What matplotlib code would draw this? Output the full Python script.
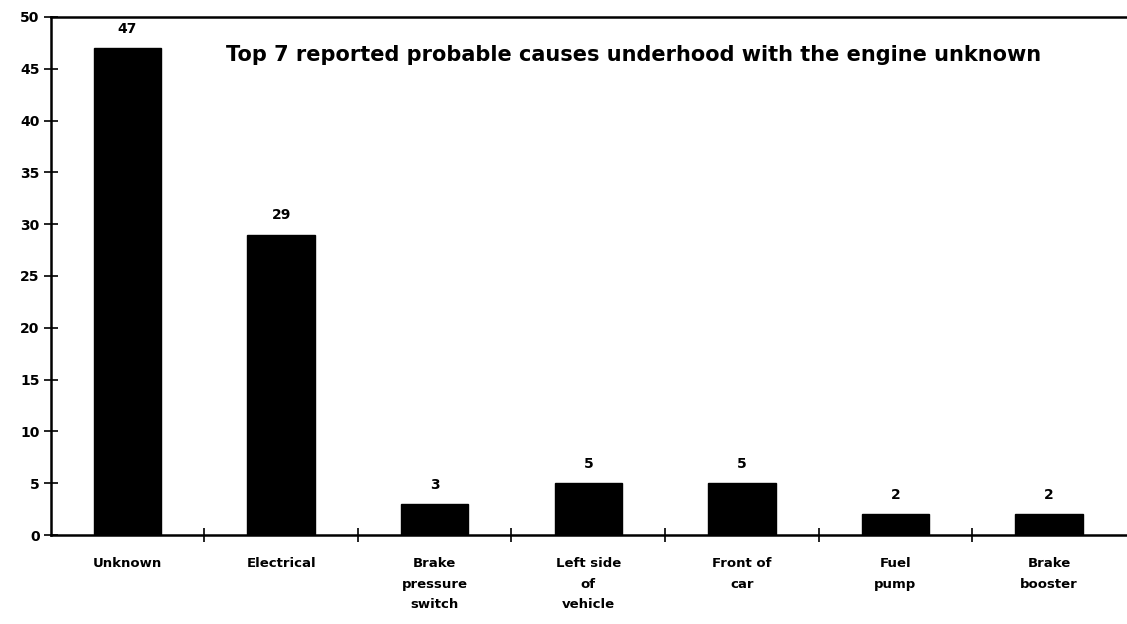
import matplotlib
matplotlib.use('Agg')
import matplotlib.pyplot as plt

categories = ["Unknown", "Electrical", "Brake\npressure\nswitch", "Left side\nof\nvehicle",
              "Front of\ncar", "Fuel\npump", "Brake\nbooster"]
counts = [47, 29, 3, 5, 5, 2, 2]
yticks = [0, 5, 10, 15, 20, 25, 30, 35, 40, 45, 50]
title = "Top 7 reported probable causes underhood with the engine unknown"

plt.rcParams['font.family'] = ['DejaVu Sans']
plt.rcParams['font.weight'] = 'bold'

fig = plt.figure(figsize=(11.27, 6.24), dpi=100)
ax = fig.add_axes([0.045, 0.1426, 0.954, 0.8302])

x = list(range(len(categories)))
ax.bar(x, counts, width=0.44, color='black', edgecolor='black')
for xi, v in zip(x, counts):
    ax.text(xi, v + 1.2, str(v), ha='center', va='bottom', fontsize=10, fontweight='bold')

ax.set_xlim(-0.5, len(categories) - 0.5)
ax.set_ylim(0, 50)
ax.set_yticks(yticks)
ax.set_yticklabels([str(t) for t in yticks], fontsize=10, fontweight='bold')
ax.set_xticks([i + 0.5 for i in range(len(categories) - 1)], minor=False)
ax.set_xticklabels([])
ax.set_xticks(x, minor=True)
ax.set_xticklabels(categories, minor=True, fontsize=9.5, fontweight='bold', linespacing=1.75, va='top')
ax.tick_params(axis='x', which='minor', length=0, pad=16)
ax.tick_params(axis='x', which='major', direction='inout', length=10, width=1.2)
ax.tick_params(axis='y', direction='inout', length=10, width=1.2, pad=3)

ax.spines['right'].set_visible(False)
for s in ['top', 'left', 'bottom']:
    ax.spines[s].set_linewidth(1.8)

ax.text(0.542, 0.927, title, transform=ax.transAxes, ha='center', va='center',
        fontsize=15, fontweight='bold')

fig.savefig('out.png', dpi=100)
